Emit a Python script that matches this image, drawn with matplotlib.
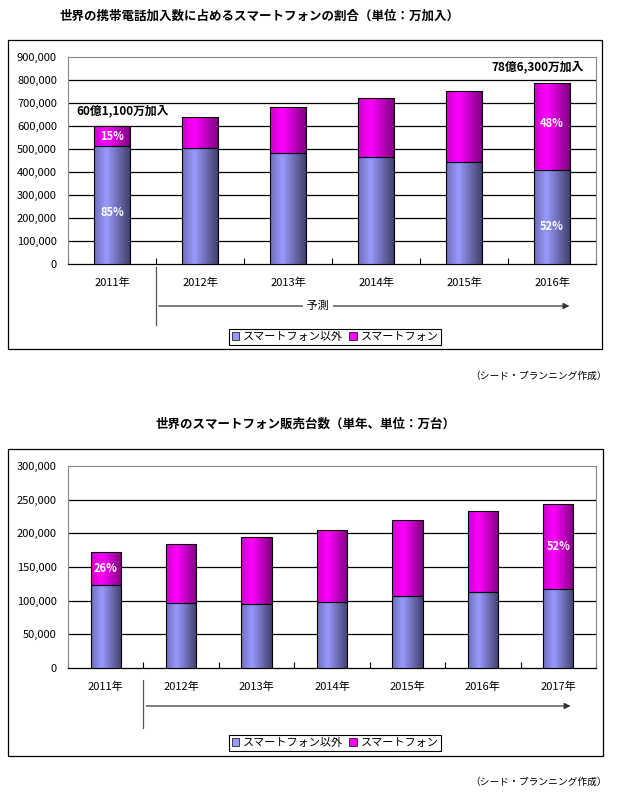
import numpy as np
import matplotlib
matplotlib.use("Agg")
import matplotlib.pyplot as plt
from matplotlib.patches import Patch, Rectangle
from matplotlib.transforms import blended_transform_factory

plt.rcParams['font.family'] = ['Noto Sans CJK JP', 'DejaVu Sans']

# 上のグラフ: 携帯電話加入数 (万加入)
years1 = ['2011年', '2012年', '2013年', '2014年', '2015年', '2016年']
other1 = [511000, 503000, 481000, 464000, 442000, 409000]
smart1 = [90000, 135000, 200000, 256000, 311000, 377000]
yticks1 = [0, 100000, 200000, 300000, 400000, 500000, 600000, 700000, 800000, 900000]

# 下のグラフ: スマートフォン販売台数 (万台)
years2 = ['2011年', '2012年', '2013年', '2014年', '2015年', '2016年', '2017年']
other2 = [124000, 96000, 95000, 98000, 107000, 113000, 117000]
smart2 = [48000, 88000, 100000, 107000, 113000, 120000, 127000]
yticks2 = [0, 50000, 100000, 150000, 200000, 250000, 300000]

labels = ['スマートフォン以外', 'スマートフォン']
col_other = (0.6, 0.6, 1.0)
col_smart = (1.0, 0.0, 1.0)

W, H = 619, 795
fig = plt.figure(figsize=(W / 100, H / 100), dpi=100)


def px_axes(x0, y0, x1, y1):
    return fig.add_axes([x0 / W, 1 - y1 / H, (x1 - x0) / W, (y1 - y0) / H])


def box(x0, y0, x1, y1):
    fig.patches.append(Rectangle((x0 / W, 1 - y1 / H), (x1 - x0) / W, (y1 - y0) / H,
                                 transform=fig.transFigure, fill=False,
                                 edgecolor='black', linewidth=0.9))


def grad(rgb, lo, mid, hi):
    t = np.linspace(0, 1, 80)
    f = np.interp(t, [0, 0.35, 1], [lo, mid, hi])
    return np.clip(np.array(rgb)[None, None, :] * f[None, :, None], 0, 1)


def shaded_bars(ax, x, h, bottom, rgb, lo, hi):
    bars = ax.bar(x, h, 0.4, bottom=bottom, color='none', edgecolor='black',
                  linewidth=0.8, zorder=4)
    img = grad(rgb, lo, 1.0, hi)
    for b in bars:
        bx, by = b.get_x(), b.get_y()
        im = ax.imshow(img, extent=[bx, bx + b.get_width(), by, by + b.get_height()],
                       aspect='auto', zorder=3, interpolation='bilinear')
        im.set_clip_path(b)
    return bars


def chart(ax, years, other, smart, yticks):
    x = np.arange(len(years))
    shaded_bars(ax, x, other, 0, col_other, 0.72, 0.42)
    shaded_bars(ax, x, smart, other, col_smart, 0.8, 0.5)
    ax.set_xlim(-0.5, len(years) - 0.5)
    ax.set_ylim(0, yticks[-1])
    ax.hlines(yticks[1:-1], -0.5, len(years) - 0.5, color='black', linewidth=0.9, zorder=1)
    ax.set_yticks(yticks)
    ax.set_yticklabels([f'{v:,}' for v in yticks])
    ax.set_xticks(x)
    ax.set_xticklabels(years)
    ax.set_xticks(np.arange(len(years) + 1) - 0.5, minor=True)
    ax.tick_params(axis='y', length=0, pad=8, labelsize=8)
    ax.tick_params(axis='x', which='major', length=0, pad=10, labelsize=8)
    ax.tick_params(axis='x', which='minor', length=4, direction='in', width=0.8)
    for s in ['top', 'right', 'left']:
        ax.spines[s].set_color('#888888')
        ax.spines[s].set_linewidth(0.8)
    ax.spines['bottom'].set_linewidth(0.9)
    ax.patch.set_alpha(0)


# ---- 上 ----
fig.text(260 / W, 1 - 16 / H, '世界の携帯電話加入数に占めるスマートフォンの割合（単位：万加入）',
         ha='center', va='center', fontsize=9, fontweight='bold')
box(8, 40, 602, 349)
ax1 = px_axes(68, 57, 596, 264)
chart(ax1, years1, other1, smart1, yticks1)
tr1 = blended_transform_factory(ax1.transData, ax1.transAxes)
ax1.plot([0.5, 0.5], [-0.015, -0.295], color='#555555', lw=0.9, transform=tr1, clip_on=False)
ax1.annotate('', xy=(5.23, -0.203), xytext=(0.5, -0.203), xycoords=tr1, textcoords=tr1,
             arrowprops=dict(arrowstyle='-|>', color='#333333', lw=0.9, mutation_scale=9))
ax1.text(2.34, -0.203, ' 予測 ', transform=tr1, ha='center', va='center', fontsize=8,
         bbox=dict(facecolor='white', edgecolor='none', pad=1))
ax1.text(0.12, 665000, '60億1,100万加入', ha='center', va='center', fontsize=8.5,
         fontweight='bold', zorder=5)
ax1.text(4.84, 856000, '78億6,300万加入', ha='center', va='center', fontsize=8.5,
         fontweight='bold', zorder=5)
ax1.text(0, other1[0] + smart1[0] / 2, '15%', ha='center', va='center', color='white',
         fontsize=8, fontweight='bold', zorder=6)
ax1.text(0, 226000, '85%', ha='center', va='center', color='white',
         fontsize=8, fontweight='bold', zorder=6)
ax1.text(5, 612000, '48%', ha='center', va='center', color='white',
         fontsize=8, fontweight='bold', zorder=6)
ax1.text(5, 161000, '52%', ha='center', va='center', color='white',
         fontsize=8, fontweight='bold', zorder=6)

handles = [Patch(facecolor=col_other, edgecolor='black', linewidth=0.5),
           Patch(facecolor=col_smart, edgecolor='black', linewidth=0.5)]
for cy, cx in [(337, 335), (743, 335)]:
    leg = fig.legend(handles, labels, loc='center', bbox_to_anchor=(cx / W, 1 - cy / H),
                     ncol=2, fancybox=False, edgecolor='black', framealpha=1, fontsize=8,
                     handlelength=0.7, handleheight=0.7, handletextpad=0.3,
                     columnspacing=0.6, borderpad=0.25)
    leg.get_frame().set_linewidth(0.8)

fig.text(607 / W, 1 - 376 / H, '（シード・プランニング作成）', ha='right', va='center', fontsize=7)

# ---- 下 ----
fig.text(305 / W, 1 - 424 / H, '世界のスマートフォン販売台数（単年、単位：万台）',
         ha='center', va='center', fontsize=9, fontweight='bold')
box(8, 449, 603, 756)
ax2 = px_axes(68, 466, 596, 668)
chart(ax2, years2, other2, smart2, yticks2)
tr2 = blended_transform_factory(ax2.transData, ax2.transAxes)
ax2.plot([0.5, 0.5], [-0.06, -0.297], color='#555555', lw=0.9, transform=tr2, clip_on=False)
ax2.annotate('', xy=(6.2, -0.188), xytext=(0.5, -0.188), xycoords=tr2, textcoords=tr2,
             arrowprops=dict(arrowstyle='-|>', color='#333333', lw=0.9, mutation_scale=9))
ax2.text(0, other2[0] + smart2[0] / 2, '26%', ha='center', va='center', color='white',
         fontsize=8, fontweight='bold', zorder=6)
ax2.text(6, other2[6] + smart2[6] / 2, '52%', ha='center', va='center', color='white',
         fontsize=8, fontweight='bold', zorder=6)

fig.text(607 / W, 1 - 782 / H, '（シード・プランニング作成）', ha='right', va='center', fontsize=7)

fig.savefig('out.png', dpi=100)
